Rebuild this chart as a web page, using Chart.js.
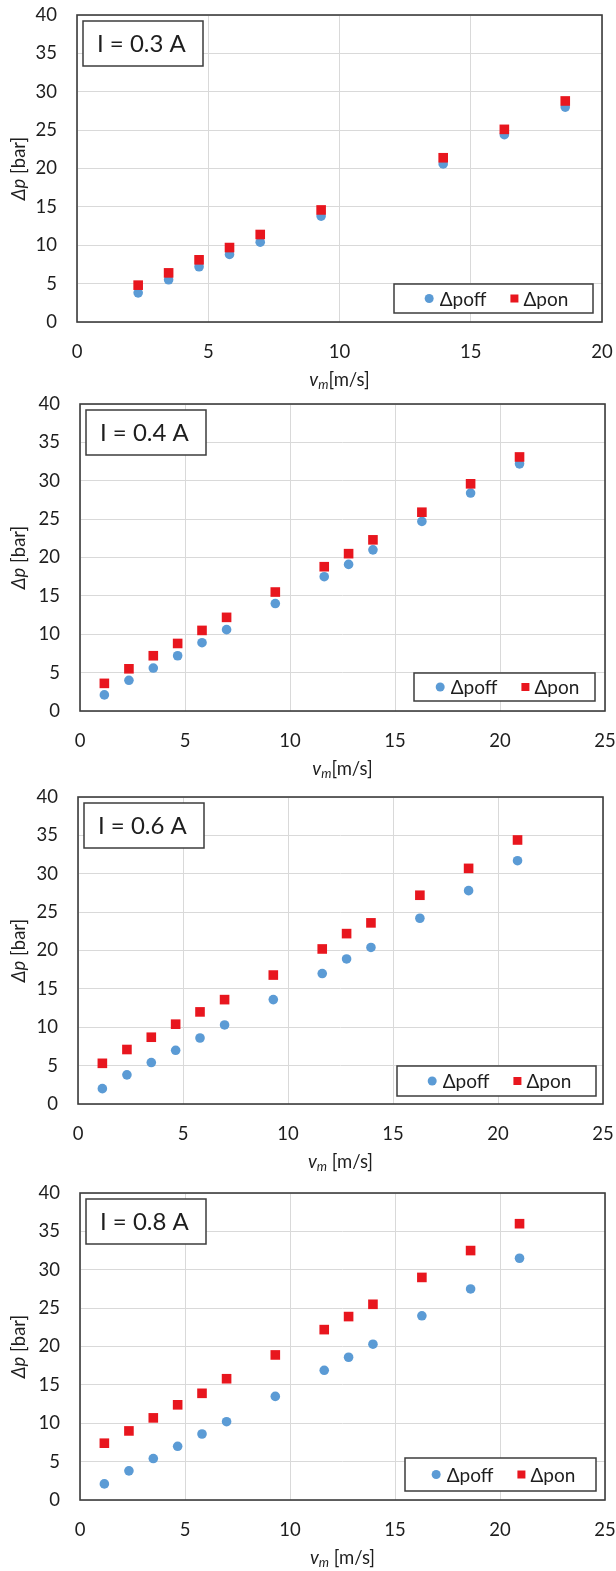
<!DOCTYPE html>
<html>
<head>
<meta charset="utf-8">
<script src="https://cdn.jsdelivr.net/npm/chart.js@4.4.1/dist/chart.umd.min.js"></script>
<style>
  html, body { margin: 0; padding: 0; background: #fff; }
  #wrap { position: relative; width: 616px; height: 1571px; }
  .panel { position: absolute; left: 0; width: 616px; }
</style>
</head>
<body>
<div id="wrap"></div>
<script>
// flow velocity v_m [m/s]
var vm03 = [2.33, 3.49, 4.65, 5.81, 6.98, 9.30, 13.95, 16.28, 18.60];
var vm = [1.16, 2.33, 3.49, 4.65, 5.81, 6.98, 9.30, 11.63, 12.79, 13.95, 16.28, 18.60, 20.93];

// pressure drop [bar], field off / field on
var poff03 = [3.8, 5.5, 7.2, 8.8, 10.4, 13.8, 20.6, 24.4, 28.0];
var pon03 = [4.8, 6.4, 8.1, 9.7, 11.4, 14.6, 21.4, 25.1, 28.8];

var poff04 = [2.1, 4.0, 5.6, 7.2, 8.9, 10.6, 14.0, 17.5, 19.1, 21.0, 24.7, 28.4, 32.2];
var pon04 = [3.6, 5.5, 7.2, 8.8, 10.5, 12.2, 15.5, 18.8, 20.5, 22.3, 25.9, 29.6, 33.1];

var poff06 = [2.0, 3.8, 5.4, 7.0, 8.6, 10.3, 13.6, 17.0, 18.9, 20.4, 24.2, 27.8, 31.7];
var pon06 = [5.3, 7.1, 8.7, 10.4, 12.0, 13.6, 16.8, 20.2, 22.2, 23.6, 27.2, 30.7, 34.4];

var poff08 = [2.1, 3.8, 5.4, 7.0, 8.6, 10.2, 13.5, 16.9, 18.6, 20.3, 24.0, 27.5, 31.5];
var pon08 = [7.4, 9.0, 10.7, 12.4, 13.9, 15.8, 18.9, 22.2, 23.9, 25.5, 29.0, 32.5, 36.0];

var currents = ['I = 0.3 A', 'I = 0.4 A', 'I = 0.6 A', 'I = 0.8 A'];
var xMaxes = [20, 25, 25, 25];
var seriesNames = ['\u0394poff', '\u0394pon'];

var FONT = 'Lato';
var BLUE = '#5B9BD5';
var RED = '#E8161E';
var INK = '#1e1e1e';

// panel geometry: canvas band, plot box [l, t, r, b] and legend box [x, y, w, h] (page px)
var panels = [
  { x: vm03, off: poff03, on: pon03, top: 0,    h: 392, plot: [77, 15, 602, 322],    legend: [394, 284, 199, 29], xsp: '' },
  { x: vm,   off: poff04, on: pon04, top: 392,  h: 393, plot: [80, 404, 605, 711],   legend: [414, 673, 181, 28], xsp: '' },
  { x: vm,   off: poff06, on: pon06, top: 785,  h: 393, plot: [78, 797, 603, 1104],  legend: [397, 1066, 199, 30], xsp: ' ' },
  { x: vm,   off: poff08, on: pon08, top: 1178, h: 393, plot: [80, 1193, 605, 1500], legend: [405, 1458, 191, 33], xsp: ' ' }
];

function pts(xs, ys) {
  return xs.map(function (v, i) { return { x: v, y: ys[i] }; });
}

// draws a run of differently styled pieces centred on (cx, cy)
function drawRun(ctx, parts, cx, cy) {
  var total = 0;
  parts.forEach(function (p) { ctx.font = p.font; p.w = ctx.measureText(p.t).width; total += p.w; });
  var x = cx - total / 2;
  ctx.textAlign = 'left';
  ctx.textBaseline = 'middle';
  parts.forEach(function (p) {
    ctx.font = p.font;
    ctx.fillText(p.t, x, cy + (p.dy || 0));
    x += p.w;
  });
}

var decor = {
  id: 'decor',
  beforeDatasetsDraw: function (chart) {
    var a = chart.chartArea, ctx = chart.ctx;
    ctx.save();
    ctx.strokeStyle = '#3c3c3c';
    ctx.lineWidth = 1.6;
    ctx.strokeRect(a.left, a.top, a.right - a.left, a.bottom - a.top);
    ctx.restore();
  },
  afterDraw: function (chart) {
    var o = chart.options.plugins.decor, a = chart.chartArea, ctx = chart.ctx;
    ctx.save();

    // current label box
    var bx = a.left + 6, by = a.top + 6;
    ctx.fillStyle = '#fff';
    ctx.fillRect(bx, by, 120, 45);
    ctx.strokeStyle = '#3c3c3c';
    ctx.lineWidth = 1.5;
    ctx.strokeRect(bx, by, 120, 45);
    ctx.fillStyle = INK;
    ctx.font = '24px ' + FONT;
    ctx.textAlign = 'left';
    ctx.textBaseline = 'middle';
    ctx.fillText(o.label, bx + 14, by + 23);

    // legend
    var L = o.legend;
    ctx.fillStyle = '#fff';
    ctx.fillRect(L[0], L[1], L[2], L[3]);
    ctx.strokeRect(L[0], L[1], L[2], L[3]);
    ctx.font = '19px ' + FONT;
    var w1 = ctx.measureText(seriesNames[0]).width, w2 = ctx.measureText(seriesNames[1]).width;
    var total = 9 + 6 + w1 + 24 + 8 + 5 + w2;
    var x = L[0] + (L[2] - total) / 2 + 3, cy = L[1] + L[3] / 2;
    ctx.fillStyle = BLUE;
    ctx.beginPath(); ctx.arc(x + 4.5, cy, 4.5, 0, Math.PI * 2); ctx.fill();
    x += 9 + 6;
    ctx.fillStyle = INK;
    ctx.fillText(seriesNames[0], x, cy + 1);
    x += w1 + 24;
    ctx.fillStyle = RED;
    ctx.fillRect(x, cy - 4, 8, 8);
    x += 8 + 5;
    ctx.fillStyle = INK;
    ctx.fillText(seriesNames[1], x, cy + 1);

    // axis titles
    var xc = (a.left + a.right) / 2;
    drawRun(ctx, [
      { t: 'v', font: 'italic 18.5px ' + FONT },
      { t: 'm', font: 'italic 13px ' + FONT, dy: 5 },
      { t: o.xsp + '[m/s]', font: '18.5px ' + FONT }
    ], xc, o.xTitleY);

    ctx.translate(19, (a.top + a.bottom) / 2);
    ctx.rotate(-Math.PI / 2);
    drawRun(ctx, [
      { t: '\u0394p', font: 'italic 18.5px ' + FONT },
      { t: ' [bar]', font: '18.5px ' + FONT }
    ], 0, 0);
    ctx.restore();
  }
};

var wrap = document.getElementById('wrap');

panels.forEach(function (p, k) {
  var div = document.createElement('div');
  div.className = 'panel';
  div.style.top = p.top + 'px';
  div.style.height = p.h + 'px';
  var cv = document.createElement('canvas');
  div.appendChild(cv);
  wrap.appendChild(div);

  var leftW = p.plot[0];
  var bottomH = p.top + p.h - p.plot[3];
  var tickFont = { family: FONT, size: 18.5 };

  new Chart(cv, {
    type: 'scatter',
    data: {
      datasets: [
        {
          label: seriesNames[0],
          data: pts(p.x, p.off),
          pointStyle: 'circle',
          pointRadius: 4.8,
          backgroundColor: BLUE,
          borderWidth: 0,
          order: 1
        },
        {
          label: seriesNames[1],
          data: pts(p.x, p.on),
          pointStyle: 'rect',
          pointRadius: 6.8,
          backgroundColor: RED,
          borderWidth: 0,
          order: 0
        }
      ]
    },
    options: {
      responsive: true,
      maintainAspectRatio: false,
      animation: false,
      events: [],
      layout: {
        padding: { top: p.plot[1] - p.top, right: 616 - p.plot[2], left: 0, bottom: 0 }
      },
      plugins: {
        legend: { display: false },
        tooltip: { enabled: false },
        decor: {
          label: currents[k],
          legend: [p.legend[0], p.legend[1] - p.top, p.legend[2], p.legend[3]],
          xsp: p.xsp,
          xTitleY: p.plot[3] - p.top + 58
        }
      },
      scales: {
        x: {
          type: 'linear',
          min: 0,
          max: xMaxes[k],
          ticks: { stepSize: 5, padding: 19, font: tickFont, color: INK, maxRotation: 0 },
          grid: { color: '#D9D9D9', lineWidth: 1, drawTicks: false },
          border: { display: false },
          afterFit: function (s) { s.height = bottomH; s.paddingLeft = 0; s.paddingRight = 0; }
        },
        y: {
          min: 0,
          max: 40,
          ticks: { stepSize: 5, padding: 20, font: tickFont, color: INK },
          grid: { color: '#D9D9D9', lineWidth: 1, drawTicks: false },
          border: { display: false },
          afterFit: function (s) { s.width = leftW; s.paddingTop = 0; s.paddingBottom = 0; }
        }
      }
    },
    plugins: [decor]
  });
});
</script>
</body>
</html>
